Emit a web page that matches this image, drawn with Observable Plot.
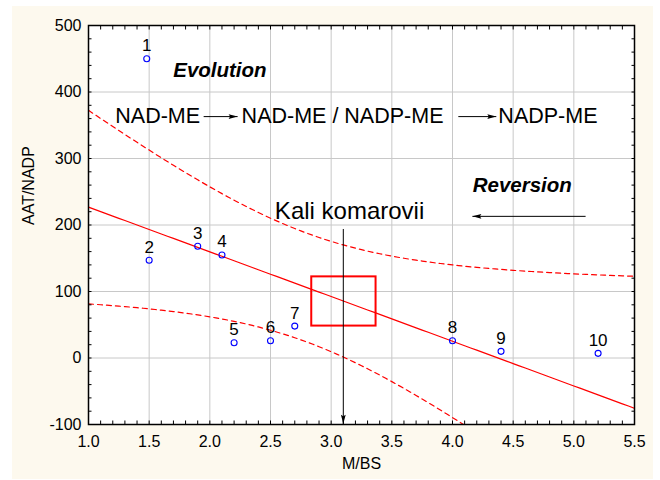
<!DOCTYPE html>
<html>
<head>
<meta charset="utf-8">
<script src="https://cdn.jsdelivr.net/npm/d3@7"></script>
<script src="https://cdn.jsdelivr.net/npm/@observablehq/plot@0.6"></script>
<style>
  html, body { margin: 0; padding: 0; background: #ffffff; }
  #wrap { position: relative; width: 660px; height: 480px; overflow: hidden; }
  #panel { position: absolute; left: 12px; top: 6px; width: 641px; height: 473px; background: #fdf9ee; }
  #chart { position: absolute; left: 0; top: 0; }
</style>
</head>
<body>
<div id="wrap"><div id="panel"></div><div id="chart"></div></div>
<script>
// ---- data ----
const pointIds = ["1", "2", "3", "4", "5", "6", "7", "8", "9", "10"];
const mbs      = [1.48, 1.5, 1.9, 2.1, 2.2, 2.5, 2.7, 4.0, 4.4, 5.2];
const aatNadp  = [450, 147, 168, 155, 23, 26, 48, 26, 10, 7];

// axis ticks
const xMajor = [1.0, 1.5, 2.0, 2.5, 3.0, 3.5, 4.0, 4.5, 5.0, 5.5];
const xMinor = d3.range(10, 56).map(i => i / 10);
const yMajor = [-100, 0, 100, 200, 300, 400, 500];
const yMinor = d3.range(-100, 501, 20);

// annotations (data coordinates)
const boxX = [2.84, 3.37];
const boxY = [48, 122];
const flowTexts = ["NAD-ME", "NAD-ME / NADP-ME", "NADP-ME"];
const flowX = [1.221, 2.262, 4.378];
const flowY = 363;
const italicTexts = ["Evolution", "Reversion"];
const italicX = [2.083, 4.575];
const italicY = [432, 260];
const speciesText = "Kali komarovii";
const speciesX = 2.536, speciesY = 220;
// arrows: start point, end point (tip), head direction (deg clockwise from north)
const arrows = [
  {x1: 1.949, y1: 363, x2: 2.229, y2: 363, dir: 90},
  {x1: 4.048, y1: 363, x2: 4.361, y2: 363, dir: 90},
  {x1: 5.097, y1: 213, x2: 4.164, y2: 213, dir: -90},
  {x1: 3.1, y1: 194, x2: 3.1, y2: -99, dir: 180}
];

// ---- regression of AAT/NADP on M/BS with 95% confidence band ----
const pts = pointIds.map((id, i) => ({id, x: mbs[i], y: aatNadp[i]}));
const n = pts.length;
const mx = d3.mean(pts, d => d.x), my = d3.mean(pts, d => d.y);
const sxx = d3.sum(pts, d => (d.x - mx) ** 2);
const sxy = d3.sum(pts, d => (d.x - mx) * (d.y - my));
const slope = sxy / sxx, intercept = my - slope * mx;
const sse = d3.sum(pts, d => (d.y - (intercept + slope * d.x)) ** 2);
const s = Math.sqrt(sse / (n - 2));
const tCrit = 2.306; // t(0.975, df = 8)
const fitX = d3.range(0, 91).map(i => 1 + i * 0.05);
const fit = fitX.map(x => {
  const yhat = intercept + slope * x;
  const h = tCrit * s * Math.sqrt(1 / n + (x - mx) ** 2 / sxx);
  return {x, yhat, lo: yhat - h, hi: yhat + h};
});

// narrow filled arrowhead, tip at the origin, pointing north
const arrowHead = {
  draw(context) {
    context.moveTo(0, 0);
    context.lineTo(-2.4, 9);
    context.lineTo(0, 7.5);
    context.lineTo(2.4, 9);
    context.closePath();
  }
};

const font = "'Liberation Sans', Arial, sans-serif";

const chart = Plot.plot({
  width: 660,
  height: 480,
  marginLeft: 88,
  marginRight: 26,
  marginTop: 25,
  marginBottom: 56,
  style: {background: "transparent", fontFamily: font, fontSize: "16px", color: "#000"},
  x: {domain: [1, 5.5], axis: null},
  y: {domain: [-100, 500], axis: null},
  marks: [
    Plot.frame({fill: "white", stroke: null}),
    Plot.gridX(xMajor, {stroke: "#c8c8c8", strokeOpacity: 1, strokeWidth: 1}),
    Plot.gridY(yMajor, {stroke: "#c8c8c8", strokeOpacity: 1, strokeWidth: 1}),
    // regression line and confidence band
    Plot.line(fit, {x: "x", y: "yhat", stroke: "#ff0000", strokeWidth: 1.2, clip: true}),
    Plot.line(fit, {x: "x", y: "hi", stroke: "#ff0000", strokeWidth: 1.2, strokeDasharray: "5,4", clip: true}),
    Plot.line(fit, {x: "x", y: "lo", stroke: "#ff0000", strokeWidth: 1.2, strokeDasharray: "5,4", clip: true}),
    // red box
    Plot.rect([0], {x1: () => boxX[0], x2: () => boxX[1], y1: () => boxY[0], y2: () => boxY[1], fill: "none", stroke: "#ff0000", strokeWidth: 2}),
    // points
    Plot.dot(pts, {x: "x", y: "y", r: 3, stroke: "#0000ff", strokeWidth: 1.1, fill: "none"}),
    Plot.text(pts, {x: "x", y: "y", text: "id", dy: -13, fontSize: 17, fill: "#000"}),
    // annotation texts
    Plot.text(italicTexts, {x: (d, i) => italicX[i], y: (d, i) => italicY[i], text: d => d, fontSize: 20.5, fontWeight: "bold", fontStyle: "italic", fill: "#000"}),
    Plot.text(flowTexts, {x: (d, i) => flowX[i], y: () => flowY, text: d => d, textAnchor: "start", fontSize: 21.5, fill: "#000"}),
    Plot.text([speciesText], {x: () => speciesX, y: () => speciesY, text: d => d, textAnchor: "start", fontSize: 24, fill: "#000"}),
    Plot.link(arrows, {x1: "x1", y1: "y1", x2: "x2", y2: "y2", stroke: "#000", strokeWidth: 1}),
    Plot.dot(arrows, {x: "x2", y: "y2", symbol: arrowHead, rotate: "dir", fill: "#000", stroke: "none", r: 4}),
    // axes
    Plot.axisX(xMinor, {anchor: "bottom", tickSize: -3.5, tickFormat: () => "", label: null}),
    Plot.axisX(xMinor, {anchor: "top", tickSize: -3.5, tickFormat: () => "", label: null}),
    Plot.axisY(yMinor, {anchor: "left", tickSize: -3.5, tickFormat: () => "", label: null}),
    Plot.axisY(yMinor, {anchor: "right", tickSize: -3.5, tickFormat: () => "", label: null}),
    Plot.axisX(xMajor, {anchor: "bottom", tickSize: 0, tickPadding: 11, tickFormat: d => d.toFixed(1), label: null, fontSize: 16}),
    Plot.axisY(yMajor, {anchor: "left", tickSize: 0, tickPadding: 7, tickFormat: d => String(d), label: null, fontSize: 16}),
    Plot.frame({stroke: "#000", strokeWidth: 1.5}),
    Plot.text(["M/BS"], {frameAnchor: "bottom", dy: 44, text: d => d, fontSize: 16, fill: "#000"}),
    Plot.text(["AAT/NADP"], {frameAnchor: "left", dx: -60, rotate: -90, text: d => d, fontSize: 16, fill: "#000"})
  ]
});
document.getElementById("chart").appendChild(chart);
</script>
</body>
</html>
